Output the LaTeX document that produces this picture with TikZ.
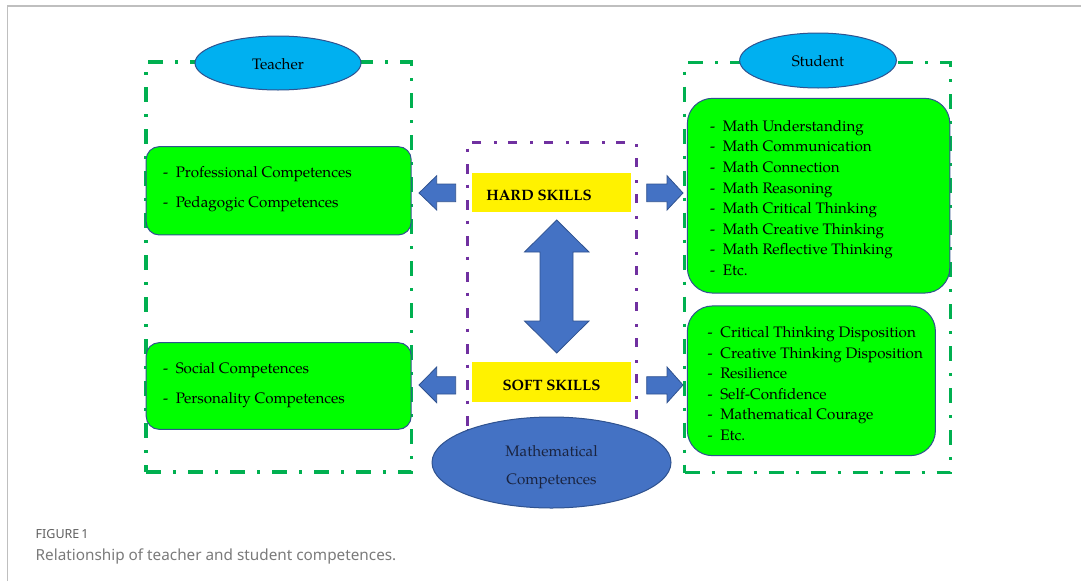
\documentclass[tikz,border=0pt]{standalone}
\usepackage{fontspec}
\newfontfamily\capfont{Noto Sans}
\newfontfamily\palfont{TeX Gyre Pagella}
\usetikzlibrary{shapes.geometric}
\definecolor{frameg}{HTML}{00B050}
\definecolor{purp}{HTML}{7030A0}
\definecolor{boxgreen}{HTML}{00FF00}
\definecolor{edgeblue}{HTML}{2F528F}
\definecolor{skyfill}{HTML}{00B0F0}
\definecolor{arrowblue}{HTML}{4472C4}
\definecolor{capgray}{HTML}{5F5F5F}
\definecolor{capgraylight}{HTML}{7A7A7A}
\definecolor{mathtext}{HTML}{1A2440}
\begin{document}
\begin{tikzpicture}[x=1pt,y=-1pt,
  gframe/.style={draw=frameg, line width=3.3, dash pattern=on 15 off 12 on 3 off 12, rectangle, inner sep=0},
  pframe/.style={draw=purp, line width=3, dash pattern=on 9.5 off 11 on 3 off 12.5, rectangle, inner sep=0},
  gbox/.style={draw=edgeblue, line width=1, fill=boxgreen, rectangle, inner sep=0},
  ybox/.style={fill=yellow, rectangle, inner sep=0},
  oval/.style={ellipse, draw=edgeblue, line width=1, inner sep=0},
  barrow/.style={fill=arrowblue, draw=edgeblue, line width=0.8, line join=miter},
  serif/.style={font=\palfont\fontsize{15.2}{18}\selectfont, inner sep=0},
  listtxt/.style={font=\palfont\fontsize{15.2}{#1}\selectfont, inner sep=0, anchor=west, align=left},
  bold/.style={font=\palfont\bfseries\fontsize{15}{18}\selectfont, inner sep=0}
]
\useasboundingbox (0,0) rectangle (1081,581);
\draw[black!25, line width=1.3] (7.6,581) -- (7.6,6) -- (1081,6);

% frames
\node[gframe, minimum width=265.5, minimum height=410] (tframe) at (278.8,267) {};
\node[gframe, minimum width=266, minimum height=410] (sframe) at (817.5,267.7) {};
\node[pframe, minimum width=169, minimum height=288] (pfr) at (551.5,286) {};

% teacher boxes
\node[gbox, rounded corners=13, minimum width=265, minimum height=88.3] (tbox1) at (278.7,190.8) {};
\node[listtxt=30] (tbox1txt) at (163,189) {-\hspace{7.5pt}Professional Competences\\-\hspace{7.5pt}Pedagogic Competences};
\node[gbox, rounded corners=13, minimum width=265, minimum height=86.7] (tbox2) at (278.7,386) {};
\node[listtxt=30] (tbox2txt) at (163,385) {-\hspace{7.5pt}Social Competences\\-\hspace{7.5pt}Personality Competences};

% student boxes
\node[gbox, rounded corners=25, minimum width=262.4, minimum height=194.7] (sbox1) at (818.6,195.7) {};
\node[listtxt=20.6] (sbox1txt) at (710,198) {-\hspace{7.5pt}Math Understanding\\-\hspace{7.5pt}Math Communication\\-\hspace{7.5pt}Math Connection\\-\hspace{7.5pt}Math Reasoning\\-\hspace{7.5pt}Math Critical Thinking\\-\hspace{7.5pt}Math Creative Thinking\\-\hspace{7.5pt}Math Reflective Thinking\\-\hspace{7.5pt}Etc.};
\node[gbox, rounded corners=25, minimum width=248, minimum height=149.7] (sbox2) at (811.4,380.8) {};
\node[listtxt=20.5] (sbox2txt) at (707.5,383.8) {-\hspace{7.5pt}Critical Thinking Disposition\\-\hspace{7.5pt}Creative Thinking Disposition\\-\hspace{7.5pt}Resilience\\-\hspace{7.5pt}Self-Confidence\\-\hspace{7.5pt}Mathematical Courage\\-\hspace{7.5pt}Etc.};

% ellipses
\node[oval, fill=skyfill, minimum width=166, minimum height=54] (teacher) at (278,63) {};
\node[serif] (teachertxt) at (278,64) {Teacher};
\node[oval, fill=skyfill, minimum width=156.7, minimum height=55] (student) at (818,60.5) {};
\node[serif] (studenttxt) at (818,61) {Student};

% skills
\node[ybox, minimum width=159, minimum height=39] (hard) at (551.5,192.5) {};
\node[bold] (hardtxt) at (539,195) {HARD SKILLS};
\node[ybox, minimum width=159, minimum height=40] (soft) at (551.5,382) {};
\node[bold] (softtxt) at (551.5,385) {SOFT SKILLS};

% block arrows
\filldraw[barrow] (556.7,220) -- (589,252) -- (573,252) -- (573,321) -- (589,321) -- (556.7,353) -- (524.5,321) -- (540,321) -- (540,252) -- (524.5,252) -- cycle;
\filldraw[barrow] (419,193) -- (436.7,175.7) -- (436.7,184) -- (455.7,184) -- (455.7,201.7) -- (436.7,201.7) -- (436.7,210) -- cycle;
\filldraw[barrow] (683,193) -- (667,175.7) -- (667,184) -- (646.7,184) -- (646.7,201.7) -- (667,201.7) -- (667,210) -- cycle;
\filldraw[barrow] (419,385) -- (436.7,367) -- (436.7,376.7) -- (455.7,376.7) -- (455.7,394) -- (436.7,394) -- (436.7,402.7) -- cycle;
\filldraw[barrow] (683,385) -- (667,367) -- (667,376.7) -- (646.7,376.7) -- (646.7,394) -- (667,394) -- (667,402.7) -- cycle;

% mathematical competences
\node[oval, fill=arrowblue, minimum width=239, minimum height=91] (mathc) at (551.5,462.5) {};
\node[serif, text=mathtext, align=center, font=\palfont\fontsize{15.2}{28}\selectfont] (mathctxt) at (551.5,467) {Mathematical\\Competences};

% caption
\node[anchor=base west, inner sep=0, text=capgray, font=\capfont\fontsize{12.5}{12.5}\selectfont] (figlbl) at (35.5,538) {FIGURE\,1};
\node[anchor=base west, inner sep=0, text=capgraylight, font=\capfont\fontsize{15.3}{15.3}\selectfont] (figcap) at (35.5,560.7) {Relationship of teacher and student competences.};
\end{tikzpicture}
\end{document}
